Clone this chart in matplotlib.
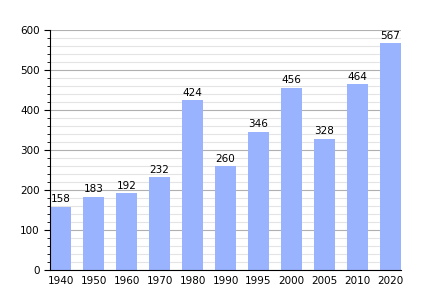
import numpy as np
import matplotlib.pyplot as plt
from matplotlib.ticker import MultipleLocator

years = ["1940", "1950", "1960", "1970", "1980", "1990", "1995", "2000", "2005", "2010", "2020"]
population = [158, 183, 192, 232, 424, 260, 346, 456, 328, 464, 567]

fig = plt.figure(figsize=(4.3, 3.0), dpi=100)
ax = fig.add_axes([0.1163, 0.1, 0.8163, 0.8])

x = np.arange(len(years))
ax.bar(x, population, width=0.64, color="#99b3ff", zorder=2)
for xi, v in zip(x, population):
    ax.text(xi, v + 6, str(v), ha="center", va="bottom", fontsize=7.5)

ax.set_xlim(-0.32, len(years) - 1 + 0.32)
ax.set_ylim(0, 600)
ax.set_xticks(x)
ax.set_xticklabels(years)
ax.yaxis.set_major_locator(MultipleLocator(100))
ax.yaxis.set_minor_locator(MultipleLocator(20))
ax.grid(axis="y", which="major", color="#b0b0b0", linewidth=0.8, zorder=0)
ax.grid(axis="y", which="minor", color="#e4e4e4", linewidth=0.8, zorder=0)
ax.set_axisbelow(True)

ax.spines["top"].set_visible(False)
ax.spines["right"].set_visible(False)
ax.tick_params(axis="x", length=0, labelsize=7.5, pad=4)
ax.tick_params(axis="y", which="major", length=4, labelsize=7.5)
ax.tick_params(axis="y", which="minor", length=2)

fig.savefig("out.png", dpi=100)
